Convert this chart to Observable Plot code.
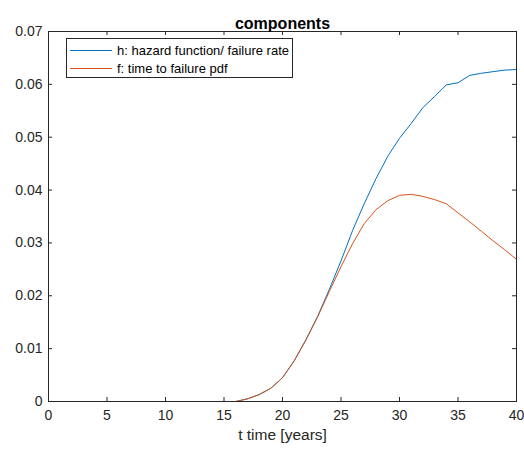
<!DOCTYPE html>
<html><head><meta charset="utf-8">
<script src="https://cdn.jsdelivr.net/npm/d3@7"></script>
<script src="https://cdn.jsdelivr.net/npm/@observablehq/plot@0.6"></script>
<style>
body{margin:0;background:#fff;}
#wrap{position:relative;width:524px;height:449px;font-family:"Liberation Sans",Arial,sans-serif;}
#legend{position:absolute;left:66px;top:38px;width:225px;height:38px;border:1px solid #262626;background:#fff;font-size:13px;color:#000;}
.row{position:absolute;left:3px;height:16px;display:flex;align-items:center;}
.sw{width:42px;height:0;border-top:1px solid;margin-right:5px;}
</style>
</head><body><div id="wrap"></div>
<script>
const title = "components";
const xLabel = "t time [years]";
const seriesNames = ["h: hazard function/ failure rate", "f: time to failure pdf"];
const seriesColors = ["#0072BD", "#D95319"];
const t = [1,2,3,4,5,6,7,8,9,10,11,12,13,14,15,16,17,18,19,20,21,22,23,24,25,26,27,28,29,30,31,32,33,34,35,36,37,38,39,40];
const h = [0,0,0,0,0,0,0,0,0,0,0,0,0,0,0,0,0.0005,0.0013,0.0025,0.0045,0.0077,0.0117,0.0161,0.0212,0.0266,0.0324,0.0375,0.0422,0.0464,0.0498,0.0526,0.0556,0.0577,0.0599,0.0603,0.0617,0.0621,0.0624,0.0627,0.0628];
const f = [0,0,0,0,0,0,0,0,0,0,0,0,0,0,0,0,0.0005,0.0013,0.0025,0.0045,0.0077,0.0116,0.0160,0.0208,0.0255,0.0299,0.0337,0.0363,0.0380,0.0390,0.0392,0.0388,0.0382,0.0374,0.0357,0.0340,0.0322,0.0304,0.0287,0.0269];
const xTicks = [0,5,10,15,20,25,30,35,40];
const yTicks = [0,0.01,0.02,0.03,0.04,0.05,0.06,0.07];

const W = 524, Hh = 449, mL = 48, mR = 8, mT = 31, mB = 48;
const pw = W - mL - mR, ph = Hh - mT - mB;
const hData = t.map((x, i) => ({t: x, v: h[i]}));
const fData = t.map((x, i) => ({t: x, v: f[i]}));
const axisColor = "#262626";

const chart = Plot.plot({
  width: W, height: Hh,
  marginLeft: mL, marginRight: mR, marginTop: mT, marginBottom: mB,
  style: {fontFamily: '"Liberation Sans", Arial, sans-serif', fontSize: "14px", color: axisColor, background: "#fff"},
  x: {domain: [0, 40]},
  y: {domain: [0, 0.07]},
  marks: [
    Plot.line(hData, {x: "t", y: "v", stroke: seriesColors[0], strokeWidth: 1}),
    Plot.line(fData, {x: "t", y: "v", stroke: seriesColors[1], strokeWidth: 1}),
    Plot.tickX(xTicks, {x: d => d, insetTop: ph - 4, stroke: axisColor}),
    Plot.tickX(xTicks, {x: d => d, insetBottom: ph - 4, stroke: axisColor}),
    Plot.tickY(yTicks, {y: d => d, insetRight: pw - 4, stroke: axisColor}),
    Plot.tickY(yTicks, {y: d => d, insetLeft: pw - 4, stroke: axisColor}),
    Plot.frame({stroke: axisColor}),
    Plot.axisX(xTicks, {tickSize: 0, tickPadding: 9, label: null, fontSize: 14, fill: axisColor}),
    Plot.axisY(yTicks, {tickSize: 0, tickPadding: 6, label: null, fontSize: 14, fill: axisColor, tickFormat: d => d === 0 ? "0" : d.toFixed(2)}),
    Plot.text([xLabel], {frameAnchor: "bottom", dy: 38, fontSize: 15.5, fill: axisColor}),
    Plot.text([title], {frameAnchor: "top", dy: -14, fontSize: 16, fontWeight: "bold", fill: "#000"})
  ]
});
const wrap = document.getElementById("wrap");
wrap.appendChild(chart);
const lg = document.createElement("div");
lg.id = "legend";
seriesNames.forEach((name, i) => {
  const r = document.createElement("div");
  r.className = "row";
  r.style.top = (i === 0 ? 3 : 21) + "px";
  const sw = document.createElement("span");
  sw.className = "sw";
  sw.style.borderColor = seriesColors[i];
  const tx = document.createElement("span");
  tx.textContent = name;
  r.appendChild(sw); r.appendChild(tx);
  lg.appendChild(r);
});
wrap.appendChild(lg);
</script>
</body></html>
